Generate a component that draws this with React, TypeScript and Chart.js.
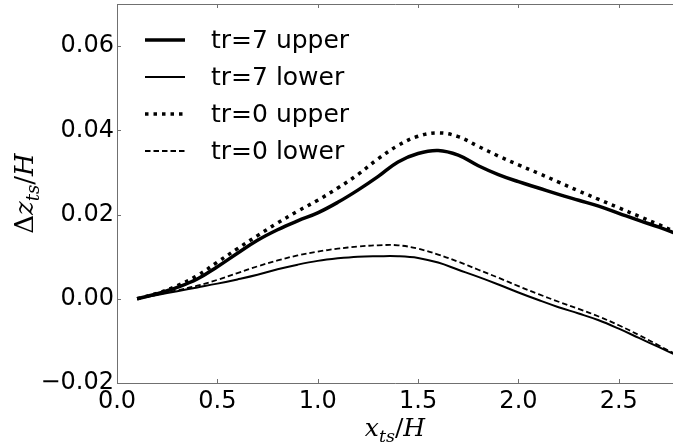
import React, { useEffect, useRef } from "react";
import { Chart, registerables } from "chart.js";

Chart.register(...registerables);

// ---- data ----
const X_VALUES = [0.1, 0.2, 0.3, 0.4, 0.5, 0.6, 0.7, 0.8, 0.9, 1.0, 1.1, 1.2, 1.3, 1.4, 1.5, 1.6, 1.7, 1.8, 1.9, 2.0, 2.1, 2.2, 2.3, 2.4, 2.5, 2.6, 2.7, 2.8];
const TR7_UPPER = [0, 0.0012, 0.0027, 0.0047, 0.0076, 0.0108, 0.0139, 0.0164, 0.0185, 0.0204, 0.0229, 0.0258, 0.029, 0.0325, 0.0345, 0.0352, 0.0341, 0.0316, 0.0295, 0.0278, 0.0263, 0.0248, 0.0234, 0.022, 0.0203, 0.0186, 0.017, 0.0152];
const TR7_LOWER = [0, 0.0009, 0.0018, 0.0027, 0.0036, 0.0046, 0.0057, 0.007, 0.0081, 0.009, 0.0096, 0.01, 0.0101, 0.0101, 0.0097, 0.0086, 0.0069, 0.0052, 0.0034, 0.0015, -0.0003, -0.002, -0.0035, -0.0051, -0.0071, -0.0093, -0.0115, -0.0137];
const TR0_UPPER = [0, 0.0013, 0.0031, 0.0055, 0.0087, 0.0119, 0.015, 0.018, 0.0208, 0.0234, 0.0263, 0.0295, 0.0332, 0.0364, 0.0386, 0.0394, 0.0385, 0.0362, 0.0339, 0.0318, 0.0298, 0.0277, 0.0256, 0.0236, 0.0216, 0.0196, 0.0176, 0.0155];
const TR0_LOWER = [0, 0.001, 0.002, 0.0031, 0.0045, 0.0061, 0.0077, 0.0091, 0.0103, 0.0112, 0.0119, 0.0124, 0.0127, 0.0127, 0.0119, 0.0105, 0.0088, 0.0069, 0.005, 0.003, 0.0011, -0.0007, -0.0024, -0.0042, -0.0063, -0.0086, -0.0111, -0.0136];

const SERIES_LABELS = ["tr=7 upper", "tr=7 lower", "tr=0 upper", "tr=0 lower"];

const X_TICKS = [0, 0.5, 1.0, 1.5, 2.0, 2.5];
const X_TICK_LABELS = ["0.0", "0.5", "1.0", "1.5", "2.0", "2.5"];
const Y_TICKS = [-0.02, 0.0, 0.02, 0.04, 0.06];
const Y_TICK_LABELS = ["\u22120.02", "0.00", "0.02", "0.04", "0.06"];

const X_MIN = 0;
const X_MAX = 2.77;
const Y_MIN = -0.02;
const Y_MAX = 0.07;

const TICK_FONT = "DejaVu Sans";
const TITLE_FONT = "DejaVu Serif";
const SPINE = "#707070";

type Seg = { t: string; italic?: boolean; sub?: boolean };
const X_TITLE: Seg[] = [{ t: "x", italic: true }, { t: "ts", italic: true, sub: true }, { t: "/" }, { t: "H", italic: true }];
const Y_TITLE: Seg[] = [{ t: "\u0394" }, { t: "z", italic: true }, { t: "ts", italic: true, sub: true }, { t: "/" }, { t: "H", italic: true }];

function drawMath(ctx: CanvasRenderingContext2D, segs: Seg[], size: number) {
  const subSize = size * 0.7;
  const fontFor = (s: Seg) => `${s.italic ? "italic " : ""}${s.sub ? subSize : size}px "${TITLE_FONT}"`;
  let total = 0;
  const widths = segs.map((s) => {
    ctx.font = fontFor(s);
    const w = ctx.measureText(s.t).width;
    total += w;
    return w;
  });
  let x = -total / 2;
  ctx.textBaseline = "alphabetic";
  ctx.textAlign = "left";
  segs.forEach((s, i) => {
    ctx.font = fontFor(s);
    ctx.fillText(s.t, x, s.sub ? size * 0.22 : 0);
    x += widths[i];
  });
}

const decorPlugin = {
  id: "decor",
  afterDraw(chart: any) {
    const { ctx, chartArea } = chart;
    const { left, right, top, bottom } = chartArea;
    const xs = chart.scales.x;
    const ys = chart.scales.y;
    ctx.save();
    // spines (right spine is cropped away in the reference)
    ctx.strokeStyle = SPINE;
    ctx.lineWidth = 1;
    ctx.beginPath();
    ctx.moveTo(left + 0.5, top + 0.5);
    ctx.lineTo(right, top + 0.5);
    ctx.moveTo(left + 0.5, top);
    ctx.lineTo(left + 0.5, bottom + 0.5);
    ctx.lineTo(right, bottom + 0.5);
    ctx.stroke();
    // inward ticks
    ctx.beginPath();
    X_TICKS.forEach((v) => {
      const px = Math.round(xs.getPixelForValue(v)) + 0.5;
      ctx.moveTo(px, bottom);
      ctx.lineTo(px, bottom - 4);
      ctx.moveTo(px, top);
      ctx.lineTo(px, top + 4);
    });
    Y_TICKS.forEach((v) => {
      const py = Math.round(ys.getPixelForValue(v)) + 0.5;
      ctx.moveTo(left, py);
      ctx.lineTo(left + 4, py);
    });
    ctx.stroke();

    // legend (inside the axes, upper left, no frame)
    const rowY0 = 40;
    const rowGap = 37;
    chart.data.datasets.forEach((ds: any, i: number) => {
      const y = rowY0 + i * rowGap;
      ctx.strokeStyle = ds.borderColor;
      ctx.lineWidth = ds.borderWidth;
      ctx.setLineDash(ds.borderDash || []);
      ctx.lineCap = "butt";
      ctx.beginPath();
      ctx.moveTo(145, y);
      ctx.lineTo(185, y);
      ctx.stroke();
      ctx.setLineDash([]);
      ctx.fillStyle = "#000";
      ctx.font = `25px "${TICK_FONT}"`;
      ctx.textBaseline = "middle";
      ctx.textAlign = "left";
      ctx.fillText(ds.label, 211, y + 1);
    });

    // axis titles
    ctx.fillStyle = "#000";
    ctx.save();
    ctx.translate((left + right) / 2, 436);
    drawMath(ctx, X_TITLE, 25);
    ctx.restore();
    ctx.save();
    ctx.translate(33, (top + bottom) / 2);
    ctx.rotate(-Math.PI / 2);
    drawMath(ctx, Y_TITLE, 26);
    ctx.restore();
    ctx.restore();
  },
};

export default function App() {
  const ref = useRef<HTMLCanvasElement | null>(null);
  useEffect(() => {
    document.body.style.margin = "0";
    const canvas = ref.current;
    if (!canvas) return;
    const mk = (ys: number[]) => X_VALUES.map((x, i) => ({ x, y: ys[i] }));
    const chart = new Chart(canvas, {
      type: "line",
      data: {
        datasets: [
          { label: SERIES_LABELS[0], data: mk(TR7_UPPER), borderColor: "#000", borderWidth: 3.5, borderDash: [] },
          { label: SERIES_LABELS[1], data: mk(TR7_LOWER), borderColor: "#000", borderWidth: 2, borderDash: [] },
          { label: SERIES_LABELS[2], data: mk(TR0_UPPER), borderColor: "#000", borderWidth: 3.5, borderDash: [3.5, 5] },
          { label: SERIES_LABELS[3], data: mk(TR0_LOWER), borderColor: "#000", borderWidth: 1.8, borderDash: [5.5, 3] },
        ].map((d) => ({ ...d, pointRadius: 0, fill: false, tension: 0.4, borderCapStyle: "butt" as const, borderJoinStyle: "round" as const })),
      },
      options: {
        animation: false,
        responsive: false,
        devicePixelRatio: 1,
        events: [],
        layout: { padding: { top: 4, right: 0, left: 0, bottom: 0 } },
        plugins: { legend: { display: false }, tooltip: { enabled: false } },
        scales: {
          x: {
            type: "linear",
            min: X_MIN,
            max: X_MAX,
            grid: { display: false, drawTicks: false },
            border: { display: false },
            ticks: {
              padding: 4,
              color: "#000",
              font: { family: TICK_FONT, size: 24 },
              maxRotation: 0,
              autoSkip: false,
              callback: (_v: any, i: number) => X_TICK_LABELS[i],
            },
            afterBuildTicks: (s: any) => {
              s.ticks = X_TICKS.map((value) => ({ value }));
            },
            afterFit: (s: any) => {
              s.height = 62;
              s.paddingLeft = 0;
              s.paddingRight = 0;
            },
          },
          y: {
            type: "linear",
            min: Y_MIN,
            max: Y_MAX,
            grid: { display: false, drawTicks: false },
            border: { display: false },
            ticks: {
              padding: 3,
              color: "#000",
              font: { family: TICK_FONT, size: 24 },
              autoSkip: false,
              callback: (_v: any, i: number) => Y_TICK_LABELS[i],
            },
            afterBuildTicks: (s: any) => {
              s.ticks = Y_TICKS.map((value) => ({ value }));
            },
            afterFit: (s: any) => {
              s.width = 117;
              s.paddingTop = 0;
              s.paddingBottom = 0;
            },
          },
        },
      },
      plugins: [decorPlugin],
    });
    return () => chart.destroy();
  }, []);
  return (
    <div style={{ position: "fixed", left: 0, top: 0, width: 673, height: 445, background: "#fff" }}>
      <canvas ref={ref} width={673} height={445} style={{ display: "block" }} />
    </div>
  );
}
